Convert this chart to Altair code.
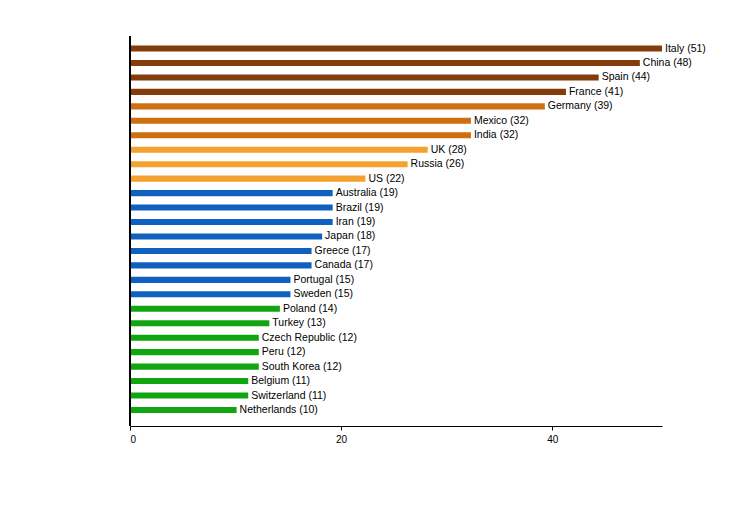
import altair as alt
import pandas as pd

countries = ["Italy", "China", "Spain", "France", "Germany", "Mexico", "India",
             "UK", "Russia", "US", "Australia", "Brazil", "Iran", "Japan", "Greece",
             "Canada", "Portugal", "Sweden", "Poland", "Turkey", "Czech Republic",
             "Peru", "South Korea", "Belgium", "Switzerland", "Netherlands"]
values = [50.4, 48.3, 44.4, 41.3, 39.3, 32.3, 32.3, 28.2, 26.3, 22.3, 19.2, 19.2,
          19.2, 18.2, 17.2, 17.2, 15.2, 15.2, 14.2, 13.2, 12.2, 12.2, 12.2, 11.2,
          11.2, 10.1]
label_values = [51, 48, 44, 41, 39, 32, 32, 28, 26, 22, 19, 19, 19, 18, 17, 17, 15, 15,
                14, 13, 12, 12, 12, 11, 11, 10]
groups = ["g1"] * 4 + ["g2"] * 3 + ["g3"] * 3 + ["g4"] * 8 + ["g5"] * 8
group_names = ["g1", "g2", "g3", "g4", "g5"]
group_colors = ["#843c0c", "#d06f12", "#f5a12f", "#1060c0", "#12a512"]

df = pd.DataFrame({
    "country": countries,
    "value": values,
    "group": groups,
    "label": [f"{c} ({v})" for c, v in zip(countries, label_values)],
})

W, H = 532, 390

x = alt.X("value:Q", scale=alt.Scale(domain=[0, 50.4], nice=False, zero=True),
          axis=alt.Axis(values=[0, 20, 40], title=None, grid=False, domainColor="black",
                        tickColor="black", tickSize=4, labelFontSize=10, labelColor="black",
                        labelFont="Liberation Sans", labelPadding=4, domainWidth=1))
y = alt.Y("country:N", sort=None,
          scale=alt.Scale(range=[9.5, 377], paddingInner=0.58, paddingOuter=0),
          axis=None)

bars = alt.Chart(df).mark_bar().encode(
    x=x, y=y,
    color=alt.Color("group:N", scale=alt.Scale(domain=group_names, range=group_colors),
                    legend=None),
)

labels = alt.Chart(df).mark_text(align="left", baseline="middle", dx=3, fontSize=10.5,
                                 font="Liberation Sans", color="black").encode(
    x="value:Q", y=y, text="label:N")

yline = alt.Chart(df).mark_rule(color="black", strokeWidth=1).encode(
    x=alt.value(0), y=alt.value(0), y2=alt.value(H))

chart = alt.layer(bars, labels, yline).properties(
    width=W, height=H, background="white",
    padding={"left": 121, "top": 27, "right": 5, "bottom": 5},
).configure_view(stroke=None)

chart.save("out.html", embed_options={"renderer": "svg", "actions": False})
